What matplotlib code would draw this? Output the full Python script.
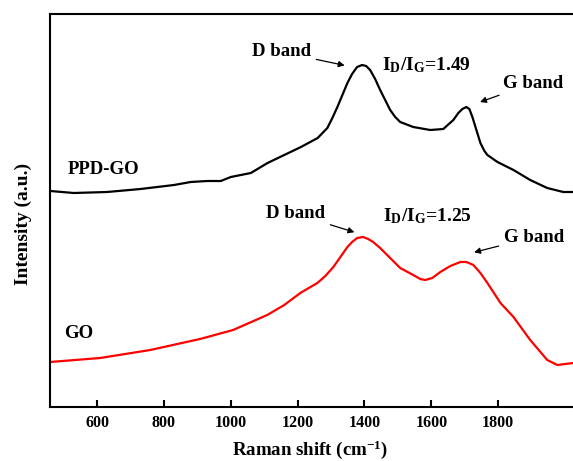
import numpy as np
import matplotlib
matplotlib.use("Agg")
import matplotlib.pyplot as plt

plt.rcParams['font.family'] = 'Liberation Serif'
plt.rcParams['font.weight'] = 'bold'
plt.rcParams['mathtext.fontset'] = 'custom'
plt.rcParams['mathtext.rm'] = 'Liberation Serif:bold'
plt.rcParams['mathtext.it'] = 'Liberation Serif:bold'
plt.rcParams['mathtext.bf'] = 'Liberation Serif:bold'
plt.rcParams['mathtext.default'] = 'bf'

# PPD-GO spectrum (offset upward)
ppd_x = [460, 530, 630, 730, 830, 880, 930, 970, 1000, 1030, 1060, 1110, 1160,
         1210, 1260, 1289, 1304, 1319, 1334, 1349, 1363, 1378, 1393, 1405, 1417,
         1432, 1447, 1462, 1477, 1492, 1507, 1546, 1597, 1636, 1666, 1681, 1693,
         1705, 1714, 1723, 1735, 1747, 1759, 1768, 1798, 1846, 1896, 1947, 1995,
         2025]
ppd_y = [216, 214, 215, 218, 222, 225, 226, 226, 230, 232, 234, 244, 252,
         260, 269, 279, 289, 300, 312, 324, 333, 340, 342, 341, 337,
         328, 317, 307, 297, 290, 285, 280, 277, 278, 287, 294, 298,
         300, 298, 290, 277, 264, 256, 252, 245, 237, 227, 219, 215,
         215]

# GO spectrum
go_x = [459, 609, 759, 908, 1007, 1109, 1160, 1208, 1259, 1283, 1307, 1349,
        1363, 1378, 1396, 1411, 1426, 1447, 1468, 1507, 1546, 1567, 1582,
        1603, 1627, 1657, 1687, 1705, 1726, 1747, 1768, 1807, 1846, 1896,
        1947, 1977, 2025]
go_y = [45, 49, 57, 68, 77, 92, 102, 114, 124, 131, 140, 160,
        165, 169, 170, 168, 165, 159, 152, 139, 132, 128, 127,
        129, 135, 141, 145, 145, 142, 134, 124, 104, 90, 67,
        47, 42, 44]

fig = plt.figure(figsize=(5.73, 4.61), dpi=100)
ax = fig.add_axes([50/573, 54/461, 535/573, 393/461])

ax.plot(ppd_x, ppd_y, color='black', lw=1.6, solid_joinstyle='round')
ax.plot(go_x, go_y, color='#ff0000', lw=1.6, solid_joinstyle='round')

ax.set_xlim(459, 2060)
ax.set_ylim(0, 393)
ax.set_yticks([])
ax.set_xticks([600, 800, 1000, 1200, 1400, 1600, 1800])
ax.tick_params(axis='x', direction='in', length=5, width=1.5, labelsize=11.5, pad=6)
for s in ax.spines.values():
    s.set_linewidth(1.5)

ax.set_xlabel('Raman shift (cm$^{-1}$)', fontsize=13.6, fontweight='bold')
ax.set_ylabel('Intensity (a.u.)', fontsize=14, fontweight='bold')
ax.xaxis.set_label_coords(0.486, -0.08)
ax.yaxis.set_label_coords(-0.034, 0.466)

arrow = dict(arrowstyle='-|>', color='black', lw=0.9, mutation_scale=9)
fs = 13.5

# PPD-GO annotations
ax.annotate('D band', xy=(1349, 341), xytext=(1151, 355), ha='center', va='center',
            fontsize=fs, arrowprops=arrow)
ax.text(1452, 342, r'$I_D/I_G$=1.49', fontsize=14, ha='left', va='center')
ax.annotate('G band', xy=(1738, 304), xytext=(1905, 324), ha='center', va='center',
            fontsize=fs, arrowprops=arrow)
ax.text(513, 237, 'PPD-GO', fontsize=fs, ha='left', va='center')

# GO annotations
ax.annotate('D band', xy=(1378, 174), xytext=(1193, 193), ha='center', va='center',
            fontsize=fs, arrowprops=arrow)
ax.text(1455, 191, r'$I_D/I_G$=1.25', fontsize=14, ha='left', va='center')
ax.annotate('G band', xy=(1720, 154), xytext=(1908, 170), ha='center', va='center',
            fontsize=fs, arrowprops=arrow)
ax.text(501, 74, 'GO', fontsize=fs, ha='left', va='center')

fig.savefig('out.png', dpi=100)
